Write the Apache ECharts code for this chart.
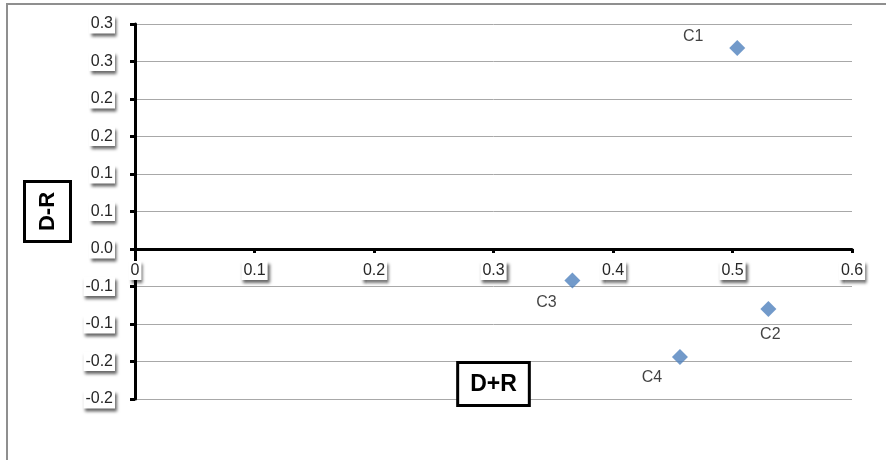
<!DOCTYPE html>
<html>
<head>
<meta charset="utf-8">
<script src="https://cdn.jsdelivr.net/npm/echarts@6/dist/echarts.min.js"></script>
<style>
  html, body { margin: 0; padding: 0; background: #fff; }
  #wrap { position: relative; width: 886px; height: 460px; }
  #chart { position: absolute; left: 0; top: 0; width: 886px; height: 460px; }
  #frame { position: absolute; left: 6px; top: 3px; right: 0; bottom: 0;
           border-left: 2px solid #8f8f8f; border-top: 2px solid #8f8f8f; pointer-events: none; }
</style>
</head>
<body>
<div id="wrap">
  <div id="chart"></div>
  <div id="frame"></div>
</div>
<script>
// ---- data ----
const pointNames = ['C1', 'C2', 'C3', 'C4'];
const xValues = [0.504, 0.530, 0.366, 0.456];   // D+R
const yValues = [0.268, -0.080, -0.042, -0.144]; // D-R
const xTickLabels = ['0', '0.1', '0.2', '0.3', '0.4', '0.5', '0.6'];
const yTickLabels = ['-0.2', '-0.2', '-0.1', '-0.1', '0.0', '0.1', '0.1', '0.2', '0.2', '0.3', '0.3'];
const xAxisTitle = 'D+R';
const yAxisTitle = 'D-R';

// ---- styling (label placement relative to each marker) ----
const labelOffsets = [[-44, -11], [2, 26], [-26, 22], [-28, 21]];

const X_MIN = 0, X_MAX = 0.6, X_STEP = 0.1;
const Y_MIN = -0.2, Y_MAX = 0.3, Y_STEP = 0.05;
const FONT = '"Liberation Sans", Arial, sans-serif';

const tickLabelStyle = {
  fontFamily: FONT, fontSize: 16, color: '#262626',
  backgroundColor: '#fff', padding: [2, 2, 1, 2],
  shadowColor: 'rgba(0,0,0,0.6)', shadowBlur: 3, shadowOffsetX: 2, shadowOffsetY: 3
};

const data = pointNames.map((n, i) => ({
  name: n,
  value: [xValues[i], yValues[i]],
  label: { offset: labelOffsets[i] }
}));

const chart = echarts.init(document.getElementById('chart'), null, { renderer: 'canvas' });
chart.setOption({
  animation: false,
  backgroundColor: '#fff',
  grid: { left: 135, right: 34, top: 24, bottom: 61, containLabel: false, outerBoundsMode: 'none' },
  xAxis: {
    type: 'value', min: X_MIN, max: X_MAX, interval: X_STEP,
    name: xAxisTitle, nameLocation: 'middle', nameGap: -35,
    nameTextStyle: {
      fontFamily: FONT, fontWeight: 'bold', fontSize: 23, color: '#000',
      borderColor: '#000', borderWidth: 3, padding: [9, 11, 8, 11], backgroundColor: '#fff'
    },
    axisLine: { onZero: true, lineStyle: { color: '#000', width: 3 } },
    axisTick: { show: true, inside: false, length: 4, lineStyle: { color: '#000', width: 3 } },
    splitLine: { show: false },
    axisLabel: Object.assign({
      margin: -138,
      formatter: v => xTickLabels[Math.round((v - X_MIN) / X_STEP)] ?? ''
    }, tickLabelStyle)
  },
  yAxis: {
    type: 'value', min: Y_MIN, max: Y_MAX, interval: Y_STEP,
    name: yAxisTitle, nameLocation: 'middle', nameGap: 66,
    nameTextStyle: {
      fontFamily: FONT, fontWeight: 'bold', fontSize: 22, color: '#000',
      borderColor: '#000', borderWidth: 3, padding: [11, 9, 10, 9], backgroundColor: '#fff'
    },
    axisLine: { onZero: false, lineStyle: { color: '#000', width: 3 } },
    axisTick: { show: true, inside: false, length: 5, lineStyle: { color: '#000', width: 3 } },
    splitLine: { show: true, lineStyle: { color: '#a8a8a8', width: 1 } },
    axisLabel: Object.assign({
      margin: 20,
      formatter: v => yTickLabels[Math.round((v - Y_MIN) / Y_STEP)] ?? ''
    }, tickLabelStyle)
  },
  series: [{
    type: 'scatter',
    symbol: 'diamond',
    symbolSize: 16,
    itemStyle: { color: '#4f81bd' },
    label: {
      show: true, position: 'inside',
      formatter: p => p.name,
      fontFamily: FONT, fontSize: 16, color: '#111'
    },
    data: data
  }]
});
</script>
</body>
</html>
